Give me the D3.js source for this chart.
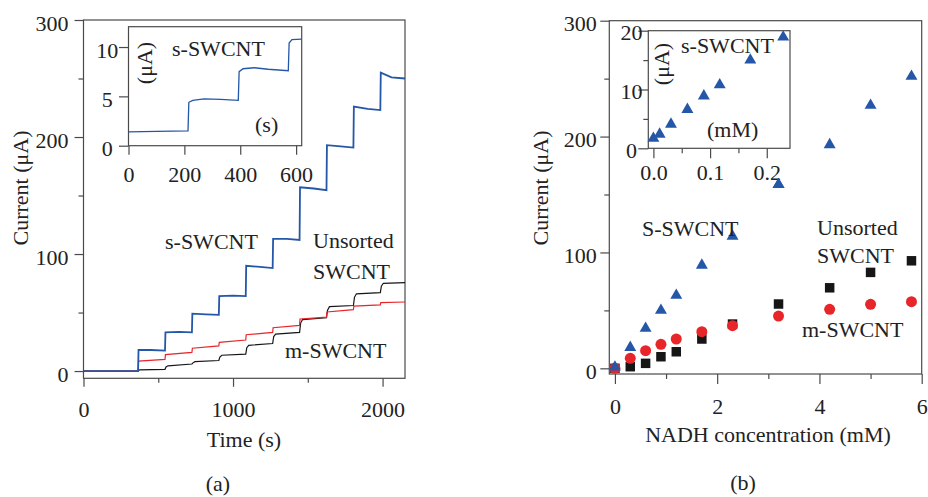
<!DOCTYPE html>
<html>
<head>
<meta charset="utf-8">
<script src="https://cdn.jsdelivr.net/npm/d3@7"></script>
<style>
body { margin: 0; background: #fff; }
svg text { font-family: "Liberation Serif", "Times New Roman", serif; font-size: 22px; fill: #222; }
</style>
</head>
<body>
<script>
// (a) amperometric response, [time (s), current (uA)]
var sTrace = [[0,0],[365,0],[368,18],[450,18],[545,17.5],[548,33],[640,33.5],[725,33],[728,49],[820,48.5],[905,48],
  [908,64],[1000,64.5],[1085,64],[1088,90],[1180,89],[1265,88],[1268,113],[1360,113],[1445,112],[1448,157],[1540,156],
  [1625,154.5],[1628,193],[1720,192],[1805,191],[1808,226],[1900,224],[1985,223],[1988,255],[2060,251],[2150,250]];
var uTrace = [[0,0],[365,0],[375,1],[545,1.5],[552,3.5],[565,4.5],[725,6],[732,7],[745,8],[905,9],[912,12],[925,13.5],
  [1085,14.5],[1092,20],[1105,22],[1265,23.5],[1272,29.5],[1285,31.5],[1445,33],[1452,41],[1465,44],[1625,45.5],
  [1632,52],[1645,55],[1805,56],[1812,63],[1825,66],[1985,67],[1992,72.5],[2005,75],[2150,75.5]];
var mTrace = [[0,0],[365,0],[368,8.5],[545,10],[548,14],[725,16],[728,19.5],[905,21.5],[908,24.5],[1085,26.5],
  [1088,31],[1265,33],[1268,37],[1445,39],[1448,44.5],[1625,46],[1628,50.5],[1805,52.5],[1808,55.5],[1985,56.5],
  [1988,58.5],[2150,59]];
var insetTrace = [[0,1.4],[100,1.45],[213,1.5],[216,4.4],[230,4.6],[270,4.75],[330,4.7],[393,4.6],[396,7.5],
  [410,7.8],[450,7.9],[500,7.75],[572,7.6],[575,10.4],[585,10.75],[620,10.8]];

// (b) calibration, NADH concentration (mM) vs current (uA)
var conc = [0, 0.3, 0.6, 0.9, 1.2, 1.7, 2.3, 3.2, 4.2, 5.0, 5.8];
var sCurrent = [1, 18, 34.5, 50, 63, 89, 114, 158.5, 193, 227, 252];
var mCurrent = [0, 8.6, 15.2, 20.7, 25.3, 31.6, 36.8, 45.1, 50.9, 55.2, 57.5];
var uCurrent = [0, 1.4, 4.3, 10, 14.3, 25.3, 38.2, 55.5, 69.5, 82.8, 92.8];
var insetConc = [0, 0.011, 0.031, 0.06, 0.089, 0.117, 0.171, 0.229];
var insetCurrent = [1.7, 2.4, 4.1, 6.6, 8.9, 10.8, 15, 18.9];

// ticks
var aXTicks = [0, 1000, 2000], aXMinor = [500, 1500];
var yTicks = [0, 100, 200, 300], yMinor = [50, 150, 250];
var iaXTicks = [0, 200, 400, 600], iaYTicks = [0, 5, 10];
var bXTicks = [0, 2, 4, 6], bXMinor = [1, 3, 5];
var ibXTicks = [0, 0.1, 0.2], ibXMinor = [0.05, 0.15];
var ibYTicks = [0, 10, 20], ibYMinor = [5, 15];

var blue = "#2457a8", red = "#e8262a", black = "#161616", axisCol = "#4a4a4a";

var svg = d3.select("body").append("svg").attr("width", 928).attr("height", 497);

// draws frame + major/minor ticks
function axes(x, y, o) {
  var g = svg.append("g");
  var x0 = x.range()[0], x1 = x.range()[1], y0 = y.range()[0], y1 = y.range()[1];
  g.append("rect").attr("x", x0).attr("y", y1).attr("width", x1 - x0).attr("height", y0 - y1)
    .attr("fill", o.fill || "none").attr("stroke", axisCol).attr("stroke-width", 1.2);

  if (o.xMinor) {
    g.append("g").attr("transform", "translate(0," + y0 + ")")
      .call(d3.axisBottom(x).tickValues(o.xMinor).tickSize(o.xm).tickFormat(""))
      .call(function(s) { s.select(".domain").remove(); });
  }
  var gx = g.append("g").attr("transform", "translate(0," + y0 + ")")
    .call(d3.axisBottom(x).tickValues(o.xTicks).tickSize(o.xt).tickFormat(o.xFmt || d3.format("")));
  gx.select(".domain").remove();
  gx.selectAll("text").attr("y", o.xLab).attr("dy", 0).attr("fill", "#222");

  if (o.yMinor) {
    g.append("g").attr("transform", "translate(" + x0 + ",0)")
      .call(d3.axisLeft(y).tickValues(o.yMinor).tickSize(o.ym).tickFormat(""))
      .call(function(s) { s.select(".domain").remove(); });
  }
  var gy = g.append("g").attr("transform", "translate(" + x0 + ",0)")
    .call(d3.axisLeft(y).tickValues(o.yTicks).tickSize(o.yt).tickFormat(d3.format("")));
  gy.select(".domain").remove();
  gy.selectAll("text").attr("x", o.yLab).attr("dy", o.yDy).attr("fill", "#222")
    .attr("text-anchor", o.yAnchor || "end");

  g.selectAll(".tick line").attr("stroke", axisCol).attr("stroke-width", 1.2);
  g.selectAll(".tick text").attr("font-family", null).attr("font-size", null);
  g.selectAll("g").attr("font-family", null).attr("font-size", null);
  return g;
}

function label(x, y, t, anchor) {
  svg.append("text").attr("x", x).attr("y", y).attr("text-anchor", anchor || "start").text(t);
}
function vlabel(x, y, t) {
  svg.append("text").attr("transform", "translate(" + x + "," + y + ") rotate(-90)")
    .attr("text-anchor", "middle").text(t);
}

// ---------- panel (a) ----------
var xA = d3.scaleLinear().domain([0, 2150]).range([83.5, 405]);
var yA = d3.scaleLinear().domain([-6.2, 300]).range([378.3, 20]);
axes(xA, yA, { xTicks: aXTicks, xMinor: aXMinor, xt: 8.5, xm: 4.5, xLab: 39,
  yTicks: yTicks, yMinor: yMinor, yt: 9, ym: 5, yLab: -15, yDy: 10 });

var lineA = d3.line().x(function(d) { return xA(d[0]); }).y(function(d) { return yA(d[1]); });
svg.append("path").datum(uTrace).attr("d", lineA).attr("fill", "none").attr("stroke", black).attr("stroke-width", 1.2);
svg.append("path").datum(mTrace).attr("d", lineA).attr("fill", "none").attr("stroke", red).attr("stroke-width", 1.2);
svg.append("path").datum(sTrace).attr("d", lineA).attr("fill", "none").attr("stroke", blue).attr("stroke-width", 1.8);

// inset (a)
var xIA = d3.scaleLinear().domain([0, 620]).range([128.5, 301.7]);
var yIA = d3.scaleLinear().domain([0, 12.06]).range([145.7, 26.7]);
axes(xIA, yIA, { fill: "#fff", xTicks: iaXTicks, xt: 9, xLab: 36,
  yTicks: iaYTicks, yt: 9.5, yLab: -21.2, yDy: 10, yAnchor: "middle" });
var lineIA = d3.line().x(function(d) { return xIA(d[0]); }).y(function(d) { return yIA(d[1]); });
svg.append("path").datum(insetTrace).attr("d", lineIA).attr("fill", "none").attr("stroke", blue).attr("stroke-width", 1.3);

label(172, 56, "s-SWCNT");
vlabel(152, 63, "(\u03bcA)");
label(255, 132, "(s)");

vlabel(28, 188, "Current (\u03bcA)");
label(244, 447, "Time (s)", "middle");
label(218, 491, "(a)", "middle");
label(165, 249, "s-SWCNT");
label(313, 248, "Unsorted");
label(313, 279, "SWCNT");
label(285, 358, "m-SWCNT");

// ---------- panel (b) ----------
var xB = d3.scaleLinear().domain([-0.11, 6]).range([609.3, 921.7]);
var yB = d3.scaleLinear().domain([-4.9, 300]).range([374, 20.7]);
axes(xB, yB, { xTicks: bXTicks, xMinor: bXMinor, xt: 10, xm: 5, xLab: 40,
  yTicks: yTicks, yMinor: yMinor, yt: 9, ym: 5, yLab: -12.5, yDy: 10 });

var sq = d3.symbol().type(d3.symbolSquare).size(90);
var ci = d3.symbol().type(d3.symbolCircle).size(95);
var tri = d3.symbol().type(d3.symbolTriangle).size(62);

svg.append("g").selectAll("path").data(conc).enter().append("path")
  .attr("d", sq).attr("fill", black)
  .attr("transform", function(d, i) { return "translate(" + xB(d) + "," + yB(uCurrent[i]) + ")"; });
svg.append("g").selectAll("path").data(conc).enter().append("path")
  .attr("d", ci).attr("fill", red)
  .attr("transform", function(d, i) { return "translate(" + xB(d) + "," + yB(mCurrent[i]) + ")"; });
svg.append("g").selectAll("path").data(conc).enter().append("path")
  .attr("d", tri).attr("fill", blue)
  .attr("transform", function(d, i) { return "translate(" + xB(d) + "," + yB(sCurrent[i]) + ")"; });

// inset (b)
var xIB = d3.scaleLinear().domain([-0.009, 0.241]).range([648.3, 790]);
var yIB = d3.scaleLinear().domain([0, 20]).range([148.3, 30.7]);
axes(xIB, yIB, { fill: "#fff", xTicks: ibXTicks, xMinor: ibXMinor, xt: 10, xm: 5, xLab: 32, xFmt: d3.format(".1f"),
  yTicks: ibYTicks, yMinor: ibYMinor, yt: 10, ym: 5, yLab: -16.8, yDy: 9, yAnchor: "middle" });
svg.append("g").selectAll("path").data(insetConc).enter().append("path")
  .attr("d", tri).attr("fill", blue)
  .attr("transform", function(d, i) { return "translate(" + xIB(d) + "," + yIB(insetCurrent[i]) + ")"; });
// last main-plot triangle sits over the inset tick labels
svg.append("path").attr("d", tri).attr("fill", blue)
  .attr("transform", "translate(" + xB(conc[7]) + "," + yB(sCurrent[7]) + ")");

label(681, 53, "s-SWCNT");
vlabel(669, 64, "(\u03bcA)");
label(707, 137, "(mM)");

vlabel(548, 188, "Current (\u03bcA)");
label(768, 442, "NADH concentration (mM)", "middle");
label(743, 490, "(b)", "middle");
label(642, 236, "S-SWCNT");
label(817, 235, "Unsorted");
label(817, 263, "SWCNT");
label(802, 336.5, "m-SWCNT");
</script>
</body>
</html>
